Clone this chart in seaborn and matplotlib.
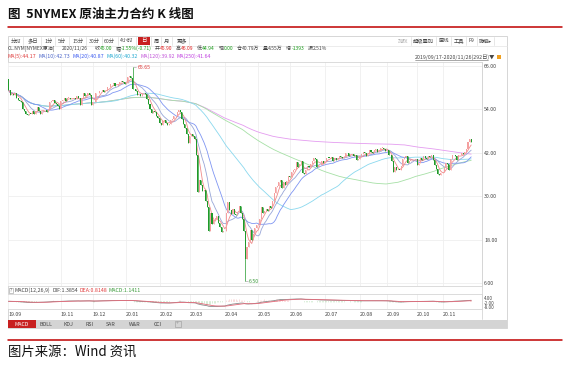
import numpy as np
import pandas as pd
import matplotlib
matplotlib.use("Agg")
import matplotlib.pyplot as plt
import seaborn as sns
from matplotlib.patches import Rectangle

# ---------------- data (daily closes, main NYMEX crude contract) ----------------
months = ["19.09", "19.10", "19.11", "19.12", "20.01", "20.02", "20.03", "20.04",
          "20.05", "20.06", "20.07", "20.08", "20.09", "20.10", "20.11"]
shown_months = ["19.09", "19.11", "19.12", "20.01", "20.02", "20.03", "20.04",
                "20.05", "20.06", "20.07", "20.08", "20.09", "20.10", "20.11"]
c_1909 = [59.34, 58.11, 58.13, 58.09, 58.64, 57.29, 56.49, 56.41, 55.91, 54.07]
c_1910 = [53.62, 52.64, 52.45, 52.81, 52.75, 53.63, 52.59, 53.55, 54.70, 53.59, 52.81, 53.36,
          53.93, 53.78, 53.31, 54.16, 55.97, 56.23, 56.66, 55.81, 55.54, 55.06, 54.18]
c_1911 = [56.20, 56.54, 57.23, 56.35, 57.15, 57.24, 56.86, 56.80, 57.12, 56.77, 57.72, 57.05,
          55.21, 57.11, 58.58, 57.77, 58.01, 58.41, 58.11, 55.17]
c_1912 = [55.96, 56.10, 58.43, 58.43, 59.20, 59.02, 59.24, 58.76, 59.18, 60.07, 60.21, 60.94,
          60.93, 61.22, 60.44, 60.52, 61.11, 61.68, 61.72, 61.68, 61.06]
c_2001 = [61.18, 63.05, 63.27, 62.70, 59.61, 59.56, 59.04, 58.08, 58.23, 57.81, 58.52, 58.54,
          58.34, 56.74, 55.59, 54.19, 53.14, 53.48, 53.33, 52.14, 51.56]
c_2002 = [50.11, 49.61, 50.75, 50.95, 50.32, 49.57, 49.94, 51.17, 51.42, 52.05, 52.05, 53.29,
          53.78, 53.38, 51.43, 49.90, 48.73, 47.09, 44.76]
c_2003 = [46.75, 47.18, 46.78, 45.90, 41.28, 31.13, 34.36, 32.98, 31.50, 31.73, 28.70, 26.95,
          20.37, 25.22, 22.43, 23.36, 24.01, 24.49, 22.60, 21.51, 20.09, 20.48]
c_2004 = [20.31, 25.32, 28.34, 26.08, 25.20, 26.50, 25.10, 24.80, 25.60, 27.40, 25.40, 23.80,
          20.40, 12.70, 16.00, 17.40, 20.60, 17.90, 19.60, 21.20, 22.00]
c_2005 = [22.40, 23.60, 26.90, 25.30, 26.00, 26.40, 25.90, 27.20, 26.60, 28.60, 30.90, 32.60,
          32.80, 33.90, 34.40, 32.20, 33.90, 33.00, 34.20, 35.50]
c_2006 = [35.44, 36.81, 37.29, 37.41, 39.55, 38.19, 38.94, 39.60, 36.34, 36.26, 37.12, 38.38,
          37.96, 38.84, 39.75, 40.46, 40.37, 38.01, 38.72, 38.49, 39.70, 39.27]
c_2007 = [39.82, 40.65, 40.63, 40.62, 40.90, 39.62, 40.55, 40.10, 40.29, 41.20, 40.75, 40.59,
          40.81, 41.96, 41.90, 41.07, 41.29, 41.60, 41.04, 41.27, 39.92, 40.27]
c_2008 = [41.01, 41.70, 42.19, 41.95, 41.22, 41.61, 42.67, 42.24, 42.01, 42.89, 42.93, 42.34,
          42.62, 43.35, 43.39, 43.04, 42.61]
c_2009 = [42.76, 41.51, 41.37, 39.77, 36.76, 38.05, 37.30, 37.33, 37.26, 38.28, 40.16, 40.97,
          41.11, 39.31, 39.80, 39.93, 40.31, 40.25, 40.22]
c_2010 = [38.72, 39.22, 40.67, 39.95, 41.19, 40.60, 40.20, 41.04, 40.88, 41.46, 40.03, 38.56,
          37.39, 36.17, 35.79, 36.40]
c_2011 = [36.81, 37.66, 39.15, 38.79, 37.14, 40.29, 41.36, 41.45, 41.12, 40.13, 41.34, 41.43,
          41.82, 41.74, 42.15, 43.06, 44.91, 45.71, 45.00]
first_open = 62.50
extreme_idx = [78, 149]
extreme_val = [65.65, 6.50]
price_ticks = [66, 54, 42, 30, 18, 6]
macd_ticks = [4, -2, -8]

month_closes = [c_1909, c_1910, c_1911, c_1912, c_2001, c_2002, c_2003, c_2004,
                c_2005, c_2006, c_2007, c_2008, c_2009, c_2010, c_2011]

close = np.array([v for m in month_closes for v in m])
n = len(close)
idx = np.arange(n)
open_ = np.concatenate([[first_open], close[:-1]])
high = np.maximum(open_, close)
low = np.minimum(open_, close)
for i, v in zip(extreme_idx, extreme_val):
    high[i] = max(high[i], v)
    low[i] = min(low[i], v)
month_start = np.concatenate([[0], np.cumsum([len(m) for m in month_closes])[:-1]])
month_pos = {m: s for m, s in zip(months, month_start)}

s = pd.Series(close)
ma = {p: s.rolling(p, min_periods=1).mean().values for p in [5, 10, 20, 60, 120, 250]}
ema12 = s.ewm(span=12, adjust=False).mean()
ema26 = s.ewm(span=26, adjust=False).mean()
dif = ema12 - ema26
dea = dif.ewm(span=9, adjust=False).mean()
hist = 2 * (dif - dea)

# ---------------- figure ----------------
sns.set_theme(style="white")
plt.rcParams['font.family'] = ['Noto Sans CJK SC', 'DejaVu Sans']
plt.rcParams['axes.unicode_minus'] = False

W, H = 579, 371
fig = plt.figure(figsize=(W / 100, H / 100), dpi=100)
fig.patch.set_facecolor("white")
renderer = fig.canvas.get_renderer()
FS = 3.8

def box(x0, y0, x1, y1):
    return [x0 / W, 1 - y1 / H, (x1 - x0) / W, (y1 - y0) / H]

def T(x, y, txt, fs=FS, color="#333333", ha="left", **kw):
    return fig.text(x / W, 1 - y / H, txt, fontsize=fs, color=color, ha=ha, va="center", **kw)

def chain(x, y, parts, fs=FS, gap=0.0):
    for txt, col in parts:
        t = T(x, y, txt, fs=fs, color=col)
        x += t.get_window_extent(renderer).width + gap
    return x

bg = fig.add_axes([0, 0, 1, 1])
bg.set_xlim(0, W)
bg.set_ylim(H, 0)
bg.axis("off")

RED = "#c00000"
# title & rules
T(8, 14.5, "图  5NYMEX 原油主力合约 K 线图", fs=9.0, color="#111111", fontweight="bold")
bg.plot([8, 562], [27, 27], color=RED, lw=1.1)
bg.plot([8, 562], [340, 340], color=RED, lw=1.1)
T(8, 352, "图片来源：Wind 资讯", fs=9.6, color="#111111")

# panel border
bg.add_patch(Rectangle((8, 35.5), 499, 292.5, fill=False, ec="#d0d0d0", lw=0.6))
bg.plot([8, 507], [45.5, 45.5], color="#e4e4e4", lw=0.5)

# toolbar left
tb = [(10.5, "分时"), (28, "多日"), (44, "1分"), (58, "5分"), (72, "15分"), (89, "30分"),
      (104, "60分"), (120, "4小时"), (153.5, "周"), (163.5, "月"), (176.5, "更多")]
for x, t in tb:
    T(x, 41, t, color="#444444")
for x in [23, 41, 55, 69, 86, 101.5, 117.5, 136, 151, 161, 172, 189]:
    bg.plot([x, x], [37, 45], color="#dddddd", lw=0.5)
bg.add_patch(Rectangle((138, 37), 12, 8, color="#c82020", lw=0))
T(144, 41, "日", color="white", ha="center")
# toolbar right
right_tb = [("加权", "#aaaaaa"), ("超级叠加", "#444444"), ("画线", "#444444"),
            ("工具", "#444444"), ("F9", "#444444"), ("隐藏▸", "#444444")]
x = 398
for t, c in right_tb:
    x0 = x
    x = chain(x, 41, [(t, c)], gap=4.5)
    bg.plot([x - 2.2, x - 2.2], [37, 45], color="#dddddd", lw=0.5)

# info line
G, R, D = "#1a9a1a", "#e02020", "#444444"
info = [[("CL.NYM[NYMEX原油]", D)], [("2020/11/26", D)],
        [("收", D), ("45.00", G)], [("幅", D), ("-1.55%(-0.71)", G)],
        [("开", D), ("45.90", R)], [("高", D), ("46.09", R)],
        [("低", D), ("44.94", G)], [("现", D), ("0.00", G)],
        [("仓", D), ("40.79万", D)], [("量", D), ("4.55万", D)],
        [("增", D), ("-1393", G)], [("振", D), ("2.51%", D)]]
x = 8
for k, parts in enumerate(info):
    x = chain(x, 48.5, parts, fs=3.6)
    x += 6.5 if k < 2 else 3.6
# MA legend line
ma_cols = {5: "#f08a8a", 10: "#98a6d8", 20: "#7f95f2", 60: "#8ad8ee", 120: "#a6e0a6", 250: "#e49cf0"}
ma_txt_cols = {5: "#e03c3c", 10: "#4a64c8", 20: "#3c5cf0", 60: "#20a8d0", 120: "#c050d8", 250: "#c040e0"}
x = 8
for p in [5, 10, 20, 60, 120, 250]:
    x = chain(x, 56, [(f"MA({p}):{ma[p][-1]:.2f}", ma_txt_cols[p])], gap=2.2)
T(415, 57, "2019/09/17-2020/11/26(292日)▼", color="#444444")
bg.plot([415, 488], [60, 60], color="#666666", lw=0.4)
bg.add_patch(Rectangle((497, 55), 4, 4, color="#f0a020", lw=0))

# ---------------- main price axes ----------------
ax = fig.add_axes(box(8, 62, 482, 286))
ax.set_xlim(-0.3, 297.8)
ax.set_ylim(6 - 3 / 3.617, 66 + 4 / 3.617)
up = close >= open_
UPC, DNC = "#f4a0a0", "#1f9a2a"
cols = np.where(up, UPC, DNC)
ax.vlines(idx, low, high, colors=cols, lw=0.5, zorder=3)
ax.bar(idx, np.maximum(np.abs(close - open_), 0.15), bottom=np.minimum(open_, close),
       width=0.65, color=cols, lw=0, zorder=3)
for p in [250, 120, 60, 20, 10, 5]:
    sns.lineplot(x=idx, y=ma[p], ax=ax, color=ma_cols[p], lw=0.6, legend=False, zorder=2)
ax.set_yticks(price_ticks)
ax.set_yticklabels([f"{v:.2f}" for v in price_ticks])
ax.yaxis.tick_right()
ax.tick_params(axis="y", labelsize=FS, colors="#444444", length=0, pad=1.5)
ax.set_xticks([month_pos[m] for m in months if m != "19.10"])
ax.tick_params(axis="x", labelbottom=False, length=0)
ax.grid(True, color="#efefef", lw=0.6)
for sp in ax.spines.values():
    sp.set_color("#d6d6d6")
    sp.set_linewidth(0.6)
ax.spines["left"].set_visible(False)
ax.set_ylabel("")
# extreme labels
ax.plot([extreme_idx[0], extreme_idx[0] + 2.5], [extreme_val[0], extreme_val[0]], color="#999999", lw=0.4)
ax.text(extreme_idx[0] + 3, extreme_val[0], f"{extreme_val[0]:.2f}", fontsize=FS, color="#e03c3c", va="center")
ax.plot([extreme_idx[1], extreme_idx[1] + 2.0], [extreme_val[1], extreme_val[1] - 0.2], color="#999999", lw=0.4)
ax.text(extreme_idx[1] + 2.3, extreme_val[1] - 0.2, f"{extreme_val[1]:.2f}", fontsize=FS, color="#3a9a3a", va="center")

# ---------------- MACD panel ----------------
bg.plot([8, 482], [293.5, 293.5], color="#e0e0e0", lw=0.5)
bg.add_patch(Rectangle((8.5, 287.5), 4, 5, fill=False, ec="#999999", lw=0.4))
T(10.5, 290, "?", fs=3.3, color="#666666", ha="center")
chain(15, 290, [("MACD(12,26,9)", "#444444"), (f"DIF:{dif.iloc[-1]:.4f}", "#444444"),
                (f"DEA:{dea.iloc[-1]:.4f}", "#e03c3c"), (f"MACD:{hist.iloc[-1]:.4f}", "#3a9a3a")], gap=1.5)

ax2 = fig.add_axes(box(8, 294, 482, 308.5))
ax2.set_xlim(ax.get_xlim())
ax2.set_ylim(-10, 10.1)
hcols = np.where(hist.values >= 0, "#f5aaaa", "#9ed49e")
ax2.vlines(idx, 0, hist.values, colors=hcols, lw=0.5, linestyles=(0, (1, 0.6)))
sns.lineplot(x=idx, y=dif.values, ax=ax2, color="#8a8a8a", lw=0.6, legend=False)
sns.lineplot(x=idx, y=dea.values, ax=ax2, color="#e46a7a", lw=0.6, legend=False)
ax2.set_yticks(macd_ticks)
ax2.set_yticklabels([f"{v:.2f}" for v in macd_ticks])
ax2.yaxis.tick_right()
ax2.tick_params(axis="y", labelsize=3.3, colors="#444444", length=0, pad=1.5)
ax2.set_xticks([month_pos[m] for m in shown_months])
ax2.set_xticklabels(shown_months, ha="left")
ax2.tick_params(axis="x", labelsize=FS, colors="#444444", length=0, pad=2.2)
ax2.grid(True, axis="x", color="#efefef", lw=0.6)
for sp in ax2.spines.values():
    sp.set_color("#d6d6d6")
    sp.set_linewidth(0.6)
ax2.spines["left"].set_visible(False)
ax2.set_ylabel("")
bg.plot([482, 482], [62, 319], color="#d6d6d6", lw=0.6)

# ---------------- bottom indicator tabs ----------------
bg.add_patch(Rectangle((8, 320), 499, 8, color="#d4d4d4", lw=0))
bg.add_patch(Rectangle((8, 320), 28, 8, color="#c82020", lw=0))
T(22, 324, "MACD", color="white", ha="center")
for x, t in [(39, "BOLL"), (64, "KDJ"), (86, "RSI"), (106, "SAR"), (129, "W&R"), (154, "CCI")]:
    T(x, 324, t, color="#444444")
bg.add_patch(Rectangle((174.5, 321), 6, 6, fill=False, ec="#999999", lw=0.4))
T(177.5, 324, "+", fs=3.6, color="#999999", ha="center")

fig.savefig("out.png", dpi=100)
